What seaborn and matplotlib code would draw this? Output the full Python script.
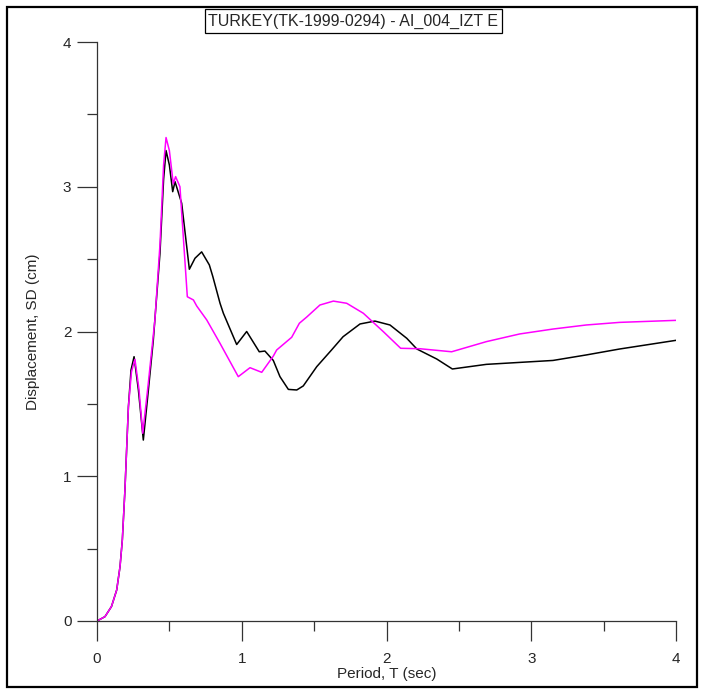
import pandas as pd
import matplotlib.pyplot as plt
import matplotlib.patches as mpatches
import seaborn as sns

sns.set_style("ticks")
plt.rcParams["font.family"] = ["Liberation Sans", "DejaVu Sans"]

# Spectral displacement
period_black = [0.0, 0.055, 0.10, 0.136, 0.159, 0.175, 0.193, 0.217, 0.235, 0.256,
                0.286, 0.32, 0.355, 0.389, 0.435, 0.46, 0.477, 0.50, 0.523, 0.539,
                0.585, 0.638, 0.677, 0.723, 0.776, 0.80, 0.85, 0.873, 0.965, 1.034,
                1.121, 1.16, 1.218, 1.264, 1.322, 1.38, 1.425, 1.518, 1.62, 1.70,
                1.817, 1.92, 2.024, 2.14, 2.21, 2.347, 2.455, 2.69, 3.15, 3.38,
                3.61, 4.0]
sd_black = [0.0, 0.03, 0.10, 0.214, 0.375, 0.56, 0.905, 1.48, 1.734, 1.826,
            1.596, 1.25, 1.596, 1.94, 2.54, 3.05, 3.25, 3.15, 2.966, 3.035,
            2.886, 2.43, 2.506, 2.55, 2.46, 2.38, 2.195, 2.126, 1.91, 2.0,
            1.86, 1.865, 1.80, 1.688, 1.60, 1.596, 1.624, 1.757, 1.872, 1.964,
            2.052, 2.072, 2.045, 1.953, 1.879, 1.81, 1.741, 1.773, 1.80, 1.838,
            1.879, 1.939]

period_magenta = [0.0, 0.055, 0.10, 0.136, 0.159, 0.175, 0.193, 0.217, 0.238, 0.262,
                  0.29, 0.316, 0.352, 0.40, 0.435, 0.46, 0.477, 0.50, 0.527, 0.543,
                  0.573, 0.624, 0.666, 0.689, 0.758, 0.85, 0.976, 1.057, 1.138, 1.218,
                  1.241, 1.345, 1.398, 1.449, 1.54, 1.633, 1.725, 1.84, 1.978, 2.098,
                  2.23, 2.45, 2.69, 2.92, 3.15, 3.38, 3.61, 4.0]
sd_magenta = [0.0, 0.03, 0.10, 0.214, 0.375, 0.56, 0.905, 1.48, 1.72, 1.808,
              1.60, 1.297, 1.62, 2.08, 2.6, 3.15, 3.34, 3.25, 3.02, 3.07,
              3.0, 2.24, 2.218, 2.176, 2.08, 1.918, 1.688, 1.75, 1.718, 1.83,
              1.872, 1.96, 2.057, 2.10, 2.183, 2.21, 2.195, 2.126, 1.999, 1.884,
              1.881, 1.86, 1.93, 1.983, 2.017, 2.045, 2.063, 2.077]

title_text = "TURKEY(TK-1999-0294) - AI_004_IZT E"

df_black = pd.DataFrame({"T": period_black, "SD": sd_black})
df_magenta = pd.DataFrame({"T": period_magenta, "SD": sd_magenta})

fig = plt.figure(figsize=(7.04, 6.89), dpi=100)
ax = fig.add_axes([97 / 704, 1 - 621 / 689, 579 / 704, 579 / 689])

sns.lineplot(data=df_black, x="T", y="SD", ax=ax, color="black", lw=1.1,
             sort=False, estimator=None)
sns.lineplot(data=df_magenta, x="T", y="SD", ax=ax, color="#ff00ff", lw=1.1,
             sort=False, estimator=None)

ax.set_xlim(0, 4)
ax.set_ylim(0, 4)
ax.set_xticks([0, 1, 2, 3, 4])
ax.set_yticks([0, 1, 2, 3, 4])
ax.set_xticks([0.5, 1.5, 2.5, 3.5], minor=True)
ax.set_yticks([0.5, 1.5, 2.5, 3.5], minor=True)
ax.tick_params(which="major", length=14.4, width=0.9, color="#333333",
               labelsize=11, direction="out")
ax.tick_params(which="minor", length=7.2, width=0.9, color="#333333", direction="out")
ax.tick_params(axis="x", pad=8)
ax.tick_params(axis="y", pad=4)

for side in ["top", "right"]:
    ax.spines[side].set_visible(False)
for side in ["left", "bottom"]:
    ax.spines[side].set_color("#333333")
    ax.spines[side].set_linewidth(0.9)

ax.set_xlabel("Period, T (sec)", fontsize=11)
ax.set_ylabel("Displacement, SD (cm)", fontsize=11)
ax.xaxis.set_label_coords(0.5, -(667 - 621) / 579, transform=ax.transAxes)
ax.yaxis.set_label_coords(-(97 - 40) / 579, 0.5, transform=ax.transAxes)

# outer frame
fig.patches.append(mpatches.Rectangle((7 / 704, 2 / 689), 690 / 704, 680 / 689,
                                      transform=fig.transFigure, fill=False,
                                      edgecolor="black", lw=1.6))

fig.text(353.5 / 704, 1 - 21 / 689, title_text, ha="center", va="center", fontsize=11.5,
         bbox=dict(boxstyle="square,pad=0.25", fc="white", ec="black", lw=0.9))

fig.savefig("out.png", dpi=100)
